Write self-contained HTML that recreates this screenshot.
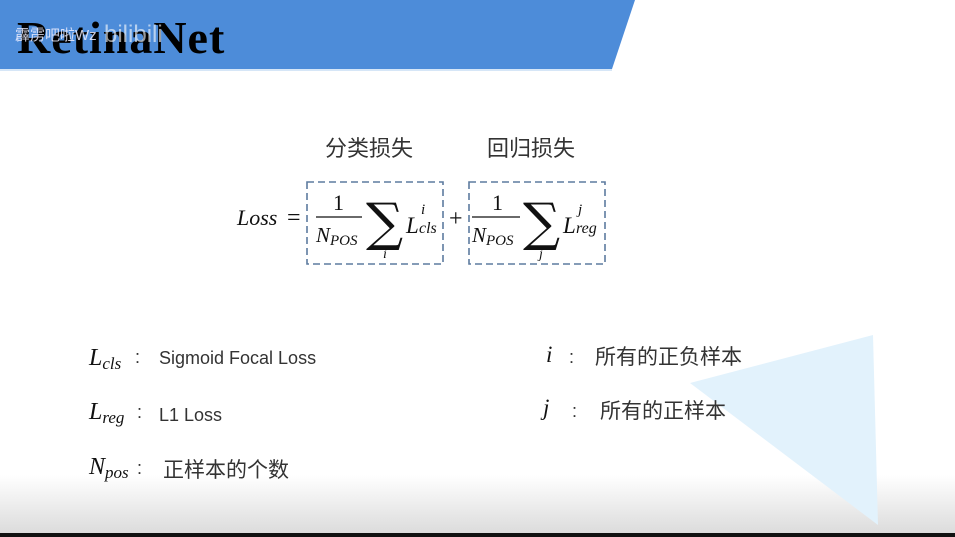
<!DOCTYPE html>
<html><head><meta charset="utf-8"><style>
html,body{margin:0;padding:0;background:#fff;}
body{width:955px;height:537px;overflow:hidden;position:relative;}
svg{position:absolute;left:0;top:0;}
.m{font-family:"Liberation Serif","DejaVu Serif",serif;font-style:italic;fill:#111;}
.c{font-family:"Liberation Sans","Noto Sans CJK SC",sans-serif;fill:#333;}
</style></head><body>
<svg width="955" height="537" viewBox="0 0 955 537">
<defs>
<linearGradient id="g" x1="0" y1="0" x2="0" y2="1">
<stop offset="0" stop-color="#fff"/><stop offset="1" stop-color="#dcdcdc"/>
</linearGradient>
</defs>
<rect x="0" y="475" width="955" height="58" fill="url(#g)"/>
<rect x="0" y="533" width="955" height="4" fill="#111"/>
<polygon points="0,0 635,0 612,69 0,69" fill="#4d8cd9"/>
<rect x="0" y="69" width="612" height="2" fill="#d6e6f7"/>
<polygon points="690,383 873,335 878,525" fill="#e2f2fc"/>
<text x="17" y="53" font-family="Liberation Serif,serif" font-weight="bold" font-size="46" letter-spacing="1" fill="#000">RetinaNet</text>
<text x="15" y="40" font-family="Liberation Sans,Noto Sans CJK SC,sans-serif" font-size="15" fill="#eef" opacity="0.85">霹雳吧啦Wz</text>
<text x="104" y="42" font-family="Liberation Sans,sans-serif" font-size="24" fill="#fff" opacity="0.6">bilibili</text>

<text class="c" x="325" y="156" font-size="22">分类损失</text>
<text class="c" x="487" y="156" font-size="22">回归损失</text>
<rect x="307" y="182" width="136" height="82" fill="none" stroke="#5d7b9f" stroke-width="1.6" stroke-dasharray="7,4"/>
<rect x="469" y="182" width="136" height="82" fill="none" stroke="#5d7b9f" stroke-width="1.6" stroke-dasharray="7,4"/>

<text class="m" x="237" y="225" font-size="22">Loss</text>
<text x="287" y="225" font-family="Liberation Serif,serif" font-size="24" fill="#111">=</text>
<text x="333" y="210" font-family="Liberation Serif,serif" font-size="22" fill="#111">1</text>
<line x1="316" y1="217" x2="362" y2="217" stroke="#111" stroke-width="1.3"/>
<text class="m" x="316" y="242" font-size="21">N<tspan font-size="15" dy="3">POS</tspan></text>
<text x="366" y="240" font-family="DejaVu Serif,serif" font-size="52" fill="#111">∑</text>
<text class="m" x="383" y="258" font-size="14">i</text>
<text class="m" x="406" y="233" font-size="23">L</text>
<text class="m" x="421" y="214" font-size="15">i</text>
<text class="m" x="419" y="233" font-size="16">cls</text>
<text x="449" y="226" font-family="Liberation Serif,serif" font-size="24" fill="#111">+</text>
<text x="492" y="210" font-family="Liberation Serif,serif" font-size="22" fill="#111">1</text>
<line x1="472" y1="217" x2="520" y2="217" stroke="#111" stroke-width="1.3"/>
<text class="m" x="472" y="242" font-size="21">N<tspan font-size="15" dy="3">POS</tspan></text>
<text x="523" y="240" font-family="DejaVu Serif,serif" font-size="52" fill="#111">∑</text>
<text class="m" x="539" y="258" font-size="14">j</text>
<text class="m" x="563" y="233" font-size="23">L</text>
<text class="m" x="578" y="214" font-size="15">j</text>
<text class="m" x="576" y="233" font-size="16">reg</text>

<text class="m" x="89" y="365" font-size="24">L<tspan font-size="17" dy="4">cls</tspan></text>
<text class="c" x="135" y="363" font-size="18">:</text>
<text class="c" x="159" y="364" font-size="18">Sigmoid Focal Loss</text>
<text class="m" x="89" y="419" font-size="24">L<tspan font-size="17" dy="4">reg</tspan></text>
<text class="c" x="137" y="418" font-size="18">:</text>
<text class="c" x="159" y="421" font-size="18">L1 Loss</text>
<text class="m" x="89" y="474" font-size="24">N<tspan font-size="17" dy="4">pos</tspan></text>
<text class="c" x="137" y="474" font-size="18">:</text>
<text class="c" x="163" y="477" font-size="21">正样本的个数</text>

<text class="m" x="546" y="362" font-size="23">i</text>
<text class="c" x="569" y="363" font-size="18">:</text>
<text class="c" x="595" y="364" font-size="21">所有的正负样本</text>
<text class="m" x="543" y="415" font-size="23">j</text>
<text class="c" x="572" y="417" font-size="18">:</text>
<text class="c" x="600" y="418" font-size="21">所有的正样本</text>
</svg>
</body></html>
